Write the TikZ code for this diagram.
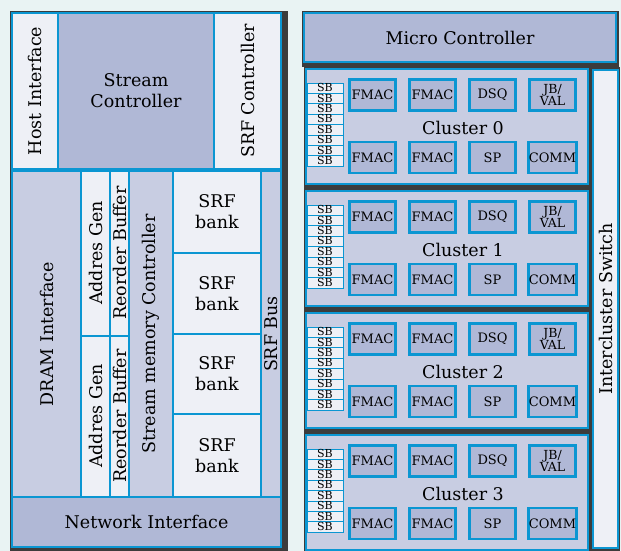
\documentclass[tikz,border=0pt]{standalone}
\usepackage{fontspec}
\setmainfont{DejaVu Serif}
\definecolor{bgpage}{HTML}{E9F3F3}
\definecolor{shadowc}{HTML}{3C3C3C}
\definecolor{edgeblue}{HTML}{0B96D2}
\definecolor{lavdark}{HTML}{B0B8D6}
\definecolor{lavmid}{HTML}{C8CDE2}
\definecolor{lavlight}{HTML}{EEF0F6}

\begin{document}
\begin{tikzpicture}[x=1pt, y=-1pt,
    unit/.style={draw=edgeblue, line width=2pt},
    bigtext/.style={font=\fontsize{17.5}{21}\selectfont, align=center, inner sep=0pt},
    cluster/.style={draw=edgeblue, line width=1.6pt, fill=lavmid},
    fu/.style={draw=edgeblue, line width=2.8pt, fill=lavdark, minimum width=46pt,
        minimum height=31pt, inner sep=0pt, align=center,
        font=\fontsize{13}{12}\selectfont},
    sbcell/.style={draw=edgeblue, line width=0.7pt, fill=lavlight, minimum width=36pt,
        minimum height=10.4pt, inner sep=0pt, text height=7pt, text depth=0pt,
        font=\fontsize{11}{11}\selectfont}]

    % page and shadows
    \fill[bgpage] (0,0) rectangle (621,551);
    \fill[shadowc] (10,11) rectangle (288,551);
    \fill[shadowc] (302,11) rectangle (619,67);
    \fill[shadowc] (304,67) rectangle (620,551);

    % Left panel: top row
    \draw[unit, fill=lavlight] (12,13) rectangle (58,169);
    \draw[unit, fill=lavdark] (58,13) rectangle (214,169);
    \draw[unit, fill=lavlight] (214,13) rectangle (281,169);
    \node[bigtext, rotate=90] (hostif) at (35,91) {Host Interface};
    \node[bigtext] (streamctl) at (136,91) {Stream\\Controller};
    \node[bigtext, rotate=90] (srfctl) at (247.5,91) {SRF Controller};

    % Left panel: memory side
    \draw[unit, fill=lavmid] (12,171) rectangle (81,497);
    \draw[unit, fill=lavlight] (81,171) rectangle (110,336);
    \draw[unit, fill=lavlight] (81,336) rectangle (110,497);
    \draw[unit, fill=lavlight] (110,171) rectangle (129,336);
    \draw[unit, fill=lavlight] (110,336) rectangle (129,497);
    \draw[unit, fill=lavmid] (129,171) rectangle (173,497);
    \draw[unit, fill=lavmid] (261,171) rectangle (281,497);
    \node[bigtext, rotate=90] (dramif) at (46.5,334) {DRAM Interface};
    \node[bigtext, rotate=90] (agen1) at (96,253) {Addres Gen};
    \node[bigtext, rotate=90] (agen2) at (96,416) {Addres Gen};
    \node[bigtext, rotate=90] (rob1) at (119.5,253) {Reorder Buffer};
    \node[bigtext, rotate=90] (rob2) at (119.5,416) {Reorder Buffer};
    \node[bigtext, rotate=90] (smc) at (151,334) {Stream memory Controller};
    \node[bigtext, rotate=90] (srfbus) at (271,334) {SRF Bus};

    % SRF banks
    \foreach \y/\h [count=\i] in {171/253,253/334,334/414,414/497} {
        \draw[unit, fill=lavlight] (173,\y) rectangle (261,\h);
        \node[bigtext] (bank\i) at (217,{(\y+\h)/2}) {SRF\\bank};
    }

    \draw[unit, fill=lavdark] (12,497) rectangle (281,547);
    \node[bigtext] (netif) at (146.5,522) {Network Interface};

    % Right panel
    \draw[unit, fill=lavdark] (304,13) rectangle (616,62);
    \node[bigtext] (microctl) at (460,38) {Micro Controller};

    \draw[unit, fill=lavlight] (593,70) rectangle (618,548);
    \node[bigtext, rotate=90] (switch) at (605.5,309) {Intercluster Switch};

    % Clusters
    \foreach \k [evaluate=\k as \ctop using 69+122*\k] in {0,...,3} {
        \draw[cluster] (306,\ctop) rectangle (588,\ctop+115);
        \node[bigtext] (cl\k) at (463,\ctop+59) {Cluster \k};
        \foreach \s in {0,...,7}
            \node[sbcell] (sb\k-\s) at (325,\ctop+19.2+10.4*\s) {SB};
        \node[fu] (fa\k) at (372.5,\ctop+26) {FMAC};
        \node[fu] (fb\k) at (432.5,\ctop+26) {FMAC};
        \node[fu] (dsq\k) at (492.5,\ctop+26) {DSQ};
        \node[fu, font=\fontsize{12.5}{11.5}\selectfont] (jb\k) at (552.5,\ctop+26) {JB/\\VAL};
        \node[fu] (fc\k) at (372.5,\ctop+88.5) {FMAC};
        \node[fu] (fd\k) at (432.5,\ctop+88.5) {FMAC};
        \node[fu] (sp\k) at (492.5,\ctop+88.5) {SP};
        \node[fu] (comm\k) at (552.5,\ctop+88.5) {COMM};
    }
\end{tikzpicture}
\end{document}
